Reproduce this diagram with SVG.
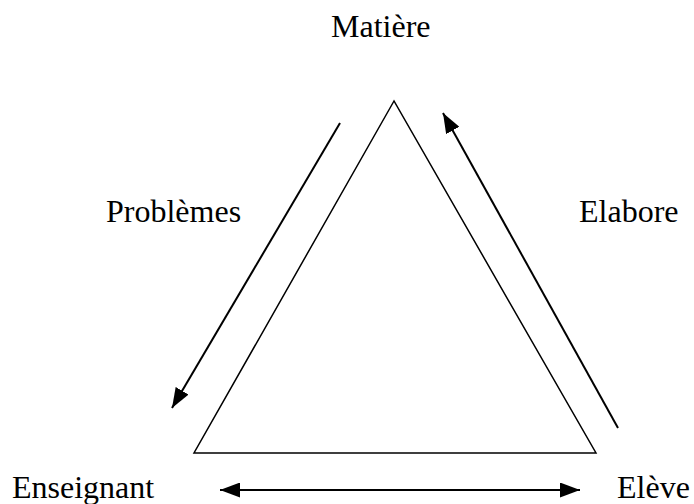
<svg xmlns="http://www.w3.org/2000/svg" width="694" height="504" viewBox="0 0 694 504">
<style>
text{font-family:"Liberation Serif","Times New Roman",serif;font-size:32px;fill:#000}
.c{stroke:#000;stroke-width:2;fill:none}
</style>
<defs>
<marker id="ah" viewBox="0 0 20 15" refX="20" refY="7.5" markerWidth="20" markerHeight="15" markerUnits="userSpaceOnUse" orient="auto-start-reverse">
<path d="M0,0 L20,7.5 L0,15 Z" fill="#000"/>
</marker>
</defs>
<rect width="694" height="504" fill="#fff"/>
<g id="triangle"><polygon points="394,101 194,453 596,453" fill="none" stroke="#000" stroke-width="1.5"/></g>
<g id="matiere"><text x="331" y="37">Matière</text></g>
<g id="problemes"><text x="106" y="222">Problèmes</text></g>
<g id="elabore"><text x="579" y="222">Elabore</text></g>
<g id="enseignant"><text x="12" y="498">Enseignant</text></g>
<g id="eleve"><text x="617" y="498">Elève</text></g>
<g id="connectors">
<line class="c" x1="340" y1="123" x2="172" y2="408" marker-end="url(#ah)"/>
<line class="c" x1="618" y1="428" x2="443" y2="113" marker-end="url(#ah)"/>
<line class="c" x1="220" y1="490" x2="580" y2="490" marker-start="url(#ah)" marker-end="url(#ah)"/>
</g>
</svg>
